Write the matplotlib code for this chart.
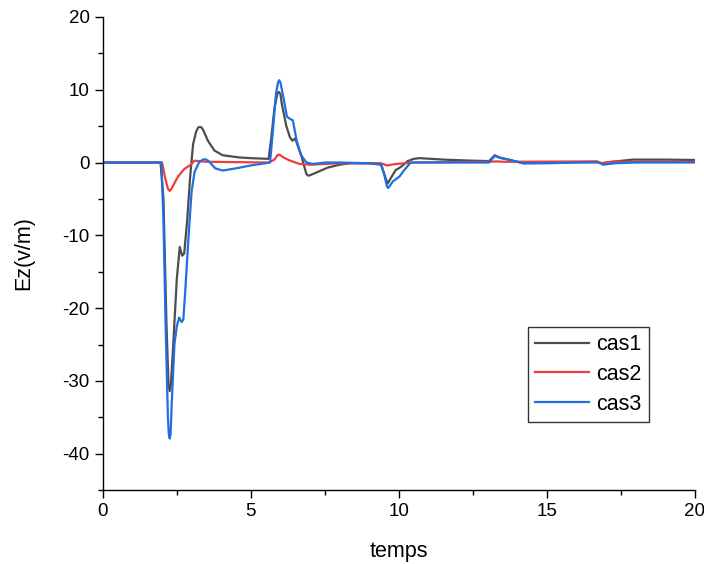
import numpy as np
import matplotlib.pyplot as plt
from matplotlib.ticker import MultipleLocator

plt.rcParams['font.family'] = ['Liberation Sans', 'DejaVu Sans']
plt.rcParams['axes.unicode_minus'] = False

# cas1 (gris foncé)
t1 = [0, 1.95, 2.05, 2.15, 2.22, 2.26, 2.3, 2.38, 2.5, 2.6, 2.68, 2.75, 2.85, 2.95, 3.05,
      3.15, 3.22, 3.28, 3.34, 3.4, 3.55, 3.77, 4.05, 4.6, 5.0, 5.6, 5.68, 5.8, 5.9, 5.95, 6.0, 6.05,
      6.2, 6.32, 6.4, 6.5, 6.7, 6.88, 6.94, 7.0, 7.2, 7.6, 8.0, 8.35, 9.0, 9.4, 9.5, 9.62,
      9.75, 9.9, 10.0, 10.1, 10.3, 10.5, 10.7, 11.5, 12.5, 13.05, 13.24, 13.4,
      13.6, 13.8, 14.2, 15, 16, 16.7, 16.85, 17.2, 17.9, 19, 20]
cas1 = [0, 0, -5, -22, -30.5, -31.4, -30.5, -25, -16, -11.6, -12.8, -12.5, -8, -2, 2.5,
        4.2, 4.8, 4.9, 4.8, 4.4, 3.0, 1.65, 1.0, 0.7, 0.6, 0.5, 3, 7.5, 9.5, 9.7, 9.4, 8.0,
        5.0, 3.5, 3.0, 3.3, 1.0, -1.6, -1.8, -1.75, -1.4, -0.7, -0.3, -0.1, -0.1, -0.3, -1.5, -2.9,
        -2.0, -1.0, -0.8, -0.5, 0.2, 0.5, 0.6, 0.4, 0.25, 0.2, 1.0, 0.7,
        0.5, 0.3, -0.1, -0.05, 0.05, 0.1, -0.1, 0.1, 0.4, 0.4, 0.35]

# cas2 (rouge)
t2 = [0, 2.0, 2.1, 2.2, 2.26, 2.32, 2.4, 2.53, 2.75, 2.97, 3.1, 3.5, 5.6, 5.8, 5.9, 5.95, 6.0, 6.1,
      6.3, 6.65, 7.0, 8, 9.4, 9.6, 9.9, 10.5, 13, 13.3, 13.6, 16.7, 16.85, 17.2, 20]
cas2 = [0, 0, -2.0, -3.6, -3.9, -3.6, -3.0, -2.0, -0.9, -0.3, 0.25, 0.1, 0.0, 0.4, 1.0, 1.1, 1.0, 0.7,
        0.3, -0.2, -0.3, -0.1, -0.1, -0.4, -0.2, 0.0, 0.1, 0.15, 0.1, 0.15, -0.1, 0.1, 0.1]

# cas3 (bleu)
t3 = [0, 1.98, 2.05, 2.12, 2.2, 2.23, 2.26, 2.29, 2.33, 2.42, 2.5, 2.58, 2.66, 2.72, 2.78,
      2.9, 3.0, 3.1, 3.25, 3.38, 3.45, 3.52, 3.6, 3.8, 4.05, 4.5, 5.0, 5.65, 5.75, 5.85,
      5.92, 5.96, 6.0, 6.1, 6.22, 6.32, 6.42, 6.55, 6.7, 6.88, 7.1, 7.5, 8.0, 9.0, 9.4,
      9.5, 9.6, 9.64, 9.68, 9.8, 10.03, 10.15, 10.4, 11, 12, 13.05, 13.24, 13.45, 13.7,
      14.2, 15, 16, 16.75, 16.9, 17.3, 18, 20]
cas3 = [0, 0, -8, -22, -35, -37.3, -37.9, -37.3, -33, -25, -22.5, -21.3, -21.9, -21.6, -18,
        -10, -4, -1.3, 0.0, 0.4, 0.45, 0.35, 0.1, -0.8, -1.1, -0.8, -0.4, 0.0, 4.5, 9.5,
        11.0, 11.3, 11.0, 9.0, 6.3, 6.0, 5.8, 3.0, 1.0, 0.0, -0.2, 0.0, 0.0, -0.1, -0.2,
        -1.5, -3.3, -3.5, -3.3, -2.6, -1.9, -1.2, 0.0, 0.0, 0.0, 0.0, 0.9, 0.6, 0.4,
        -0.1, -0.1, 0.0, 0.0, -0.3, -0.1, 0.0, 0.0]

fig = plt.figure(figsize=(7.04, 5.64), dpi=100)
ax = fig.add_axes([0.146, 0.131, 0.841, 0.839])

ax.plot(t1, cas1, color='#4d4d4d', lw=1.6, label='cas1')
ax.plot(t2, cas2, color='#f03c3c', lw=1.6, label='cas2')
ax.plot(t3, cas3, color='#1f6fe0', lw=1.6, label='cas3')

ax.set_xlim(0, 20)
ax.set_ylim(-45, 20)
ax.xaxis.set_major_locator(MultipleLocator(5))
ax.xaxis.set_minor_locator(MultipleLocator(2.5))
ax.yaxis.set_major_locator(MultipleLocator(10))
ax.yaxis.set_minor_locator(MultipleLocator(5))
ax.tick_params(which='major', direction='out', length=5.5, width=1,
               labelsize=13.5, pad=4)
ax.tick_params(which='minor', direction='out', length=3.5, width=1)

for s in ['top', 'right']:
    ax.spines[s].set_visible(False)
for s in ['left', 'bottom']:
    ax.spines[s].set_linewidth(1)

ax.set_xlabel('temps', fontsize=15.5, labelpad=15)
ax.set_ylabel('Ez(v/m)', fontsize=15.5, labelpad=20)

leg = ax.legend(loc='upper left', bbox_to_anchor=(0.718, 0.345), fontsize=15.5,
                frameon=True, fancybox=False, edgecolor='black',
                handlelength=2.5, handletextpad=0.3, borderpad=0.35,
                labelspacing=0.4, borderaxespad=0)
leg.get_frame().set_linewidth(1)

fig.savefig('out.png', dpi=100)
